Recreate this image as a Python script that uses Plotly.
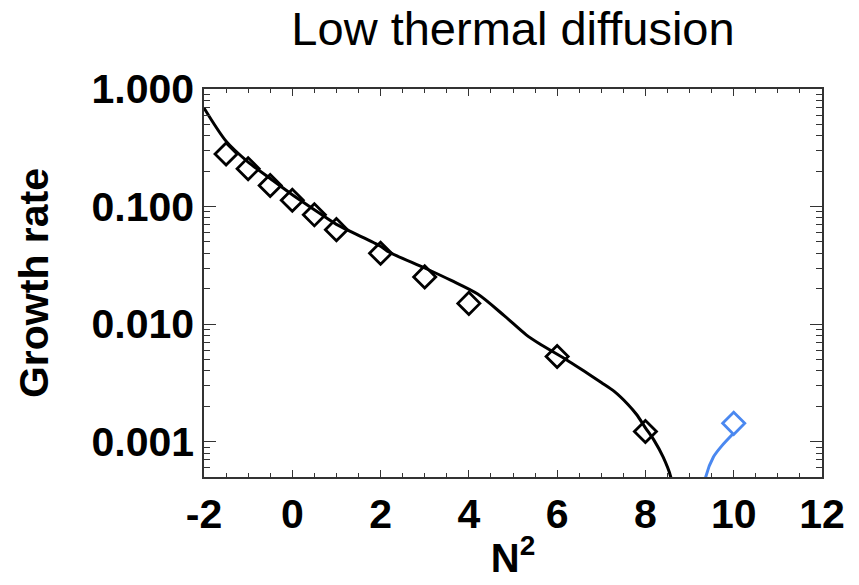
import numpy as np
import plotly.graph_objects as go

# Data
diam_x = [-1.5, -1.0, -0.5, 0.0, 0.5, 1.0, 2.0, 3.0, 4.0, 6.0, 8.0]
diam_y = [0.28, 0.21, 0.151, 0.113, 0.085, 0.0636, 0.040, 0.0252, 0.015, 0.0053, 0.00122]

curve_x = [-2.0, -1.5, -1.0, -0.5, 0.0, 0.5, 1.0, 2.0, 2.2, 3.0, 3.6, 4.2, 4.8, 5.3, 5.6,
           6.2, 6.6, 7.0, 7.3, 7.6, 7.8, 8.0, 8.2, 8.4, 8.57, 8.62]
curve_y = [0.69, 0.36, 0.239, 0.173, 0.126, 0.094, 0.0705, 0.046, 0.0408, 0.0300, 0.0235,
           0.0180, 0.0118, 0.0081, 0.0068, 0.0050, 0.0040, 0.00318, 0.00266, 0.00208,
           0.0017, 0.00131, 0.00102, 0.00074, 0.000507, 0.0004]

blue_curve_x = [9.33, 9.37, 9.54, 9.73, 9.98]
blue_curve_y = [0.0004, 0.000507, 0.00074, 0.00092, 0.00116]
blue_diam_x = [10.0]
blue_diam_y = [0.00143]

x_ticks = [-2, 0, 2, 4, 6, 8, 10, 12]
y_ticks = [0.001, 0.01, 0.1, 1.0]
y_ticktext = ["0.001", "0.010", "0.100", "1.000"]

BLUE = "#4a88f0"
FONT = "Liberation Sans"

minor_y = [m * 10.0 ** k for k in range(-4, 0) for m in range(2, 10)]

fig = go.Figure()
fig.add_trace(go.Scatter(x=curve_x, y=curve_y, mode="lines",
                         line=dict(color="black", width=3, shape="spline", smoothing=0.8),
                         showlegend=False))
fig.add_trace(go.Scatter(x=diam_x, y=diam_y, mode="markers",
                         marker=dict(symbol="diamond-open", size=17, color="black",
                                     line=dict(width=2.8, color="black")),
                         showlegend=False, cliponaxis=False))
fig.add_trace(go.Scatter(x=blue_curve_x, y=blue_curve_y, mode="lines",
                         line=dict(color=BLUE, width=3, shape="spline", smoothing=0.8),
                         showlegend=False))
fig.add_trace(go.Scatter(x=blue_diam_x, y=blue_diam_y, mode="markers",
                         marker=dict(symbol="diamond-open", size=17, color=BLUE,
                                     line=dict(width=2.8, color=BLUE)),
                         showlegend=False))

fig.update_layout(
    width=859, height=585,
    margin=dict(l=204, r=37, t=89, b=102),
    paper_bgcolor="white", plot_bgcolor="white",
    font=dict(family=FONT, color="black"),
    title=dict(text="Low thermal diffusion", x=0.5, xref="paper",
               y=1 - 29 / 585, yref="container", yanchor="middle",
               font=dict(family=FONT, size=47, color="black")),
)

fig.update_xaxes(
    range=[-2, 12], tickvals=x_ticks, ticktext=[str(v) for v in x_ticks],
    ticks="inside", ticklen=7, tickwidth=1.2, tickcolor="#333",
    showline=True, linecolor="#333", linewidth=1.5, mirror="ticks",
    showgrid=False, zeroline=False,
    tickfont=dict(family=FONT, size=41, color="black", weight="bold"),
    minor=dict(dtick=0.5, ticks="inside", ticklen=4, tickwidth=1.2, tickcolor="#333", showgrid=False),
    title=dict(text="N<sup>2</sup>", standoff=8,
               font=dict(family=FONT, size=40, color="black", weight="bold")),
)

fig.update_yaxes(
    type="log", range=[np.log10(0.0005), 0],
    tickvals=y_ticks, ticktext=y_ticktext,
    ticks="inside", ticklen=12, tickwidth=1.2, tickcolor="#333",
    showline=True, linecolor="#333", linewidth=1.5, mirror="ticks",
    showgrid=False, zeroline=False,
    tickfont=dict(family=FONT, size=41, color="black", weight="bold"),
    minor=dict(tickvals=minor_y, ticks="inside", ticklen=6, tickwidth=1.2, tickcolor="#333", showgrid=False),
    title=dict(text="Growth rate", standoff=30,
               font=dict(family=FONT, size=41, color="black", weight="bold")),
)

fig.write_html("out.html")
